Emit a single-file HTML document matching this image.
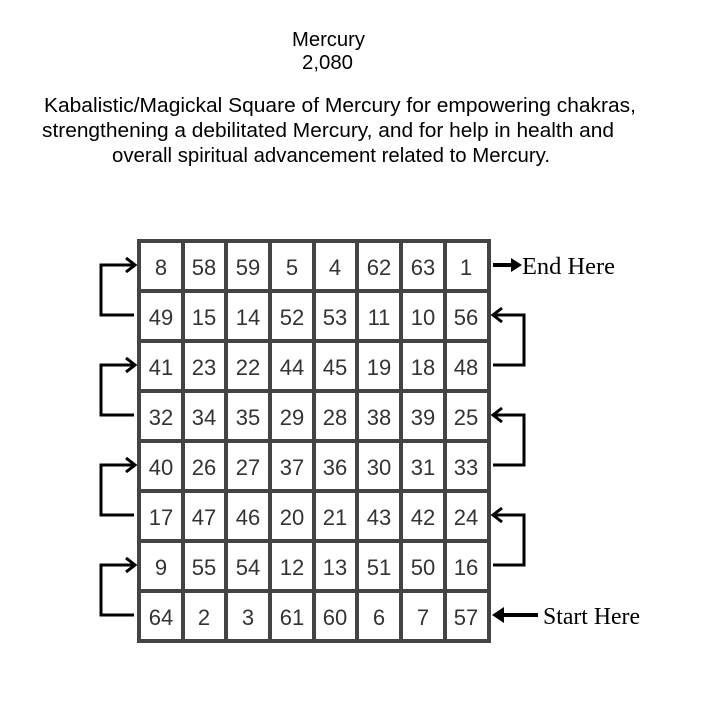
<!DOCTYPE html>
<html><head><style>
body{margin:0;background:#fff;width:712px;height:705px;overflow:hidden}
</style></head><body>
<svg width="712" height="705" xmlns="http://www.w3.org/2000/svg">
<g font-family="Liberation Sans, Arial, sans-serif" font-size="20" fill="#000">
<text x="292" y="46" textLength="73" lengthAdjust="spacingAndGlyphs">Mercury</text>
<text x="302" y="69" textLength="51" lengthAdjust="spacingAndGlyphs">2,080</text>
<text x="44" y="112" textLength="592" lengthAdjust="spacingAndGlyphs">Kabalistic/Magickal Square of Mercury for empowering chakras,</text>
<text x="42" y="137" textLength="572" lengthAdjust="spacingAndGlyphs">strengthening a debilitated Mercury, and for help in health and</text>
<text x="112" y="162" textLength="438" lengthAdjust="spacingAndGlyphs">overall spiritual advancement related to Mercury.</text>
</g>
<g stroke="#444" stroke-width="4" fill="none">
<rect x="139" y="241" width="350" height="400" fill="#fff"/>
<line x1="183" y1="241" x2="183" y2="641"/><line x1="226" y1="241" x2="226" y2="641"/>
<line x1="270" y1="241" x2="270" y2="641"/><line x1="314" y1="241" x2="314" y2="641"/>
<line x1="357" y1="241" x2="357" y2="641"/><line x1="401" y1="241" x2="401" y2="641"/>
<line x1="445" y1="241" x2="445" y2="641"/>
<line x1="139" y1="291" x2="489" y2="291"/><line x1="139" y1="341" x2="489" y2="341"/>
<line x1="139" y1="391" x2="489" y2="391"/><line x1="139" y1="441" x2="489" y2="441"/>
<line x1="139" y1="491" x2="489" y2="491"/><line x1="139" y1="541" x2="489" y2="541"/>
<line x1="139" y1="591" x2="489" y2="591"/>
</g>
<g font-family="Liberation Sans, Arial, sans-serif" font-size="22" text-anchor="middle" fill="#333">
<text x="161" y="275">8</text><text x="204" y="275">58</text><text x="248" y="275">59</text><text x="292" y="275">5</text><text x="335" y="275">4</text><text x="379" y="275">62</text><text x="423" y="275">63</text><text x="466" y="275">1</text>
<text x="161" y="325">49</text><text x="204" y="325">15</text><text x="248" y="325">14</text><text x="292" y="325">52</text><text x="335" y="325">53</text><text x="379" y="325">11</text><text x="423" y="325">10</text><text x="466" y="325">56</text>
<text x="161" y="375">41</text><text x="204" y="375">23</text><text x="248" y="375">22</text><text x="292" y="375">44</text><text x="335" y="375">45</text><text x="379" y="375">19</text><text x="423" y="375">18</text><text x="466" y="375">48</text>
<text x="161" y="425">32</text><text x="204" y="425">34</text><text x="248" y="425">35</text><text x="292" y="425">29</text><text x="335" y="425">28</text><text x="379" y="425">38</text><text x="423" y="425">39</text><text x="466" y="425">25</text>
<text x="161" y="475">40</text><text x="204" y="475">26</text><text x="248" y="475">27</text><text x="292" y="475">37</text><text x="335" y="475">36</text><text x="379" y="475">30</text><text x="423" y="475">31</text><text x="466" y="475">33</text>
<text x="161" y="525">17</text><text x="204" y="525">47</text><text x="248" y="525">46</text><text x="292" y="525">20</text><text x="335" y="525">21</text><text x="379" y="525">43</text><text x="423" y="525">42</text><text x="466" y="525">24</text>
<text x="161" y="575">9</text><text x="204" y="575">55</text><text x="248" y="575">54</text><text x="292" y="575">12</text><text x="335" y="575">13</text><text x="379" y="575">51</text><text x="423" y="575">50</text><text x="466" y="575">16</text>
<text x="161" y="625">64</text><text x="204" y="625">2</text><text x="248" y="625">3</text><text x="292" y="625">61</text><text x="335" y="625">60</text><text x="379" y="625">6</text><text x="423" y="625">7</text><text x="466" y="625">57</text>
</g>
<g stroke="#000" stroke-width="3" fill="none">
<path d="M134 315H101V265H135M126 258L135 265L126 272"/>
<path d="M134 415H101V365H135M126 358L135 365L126 372"/>
<path d="M134 515H101V465H135M126 458L135 465L126 472"/>
<path d="M134 615H101V565H135M126 558L135 565L126 572"/>
<path d="M493 365H524V315H493M502 308L493 315L502 322"/>
<path d="M493 465H524V415H493M502 408L493 415L502 422"/>
<path d="M493 565H524V515H493M502 508L493 515L502 522"/>
<path d="M493 265H513" stroke-width="4"/>
<path d="M496 615H538" stroke-width="4"/>
</g>
<path d="M511 258L522 265L511 272Z" fill="#000"/>
<path d="M492 615L504 607L504 623Z" fill="#000"/>
<g font-family="Liberation Serif, Times New Roman, serif" font-size="24" fill="#000">
<text x="522" y="274" textLength="93" lengthAdjust="spacingAndGlyphs">End Here</text>
<text x="543" y="624" textLength="97" lengthAdjust="spacingAndGlyphs">Start Here</text>
</g>
</svg>
</body></html>
